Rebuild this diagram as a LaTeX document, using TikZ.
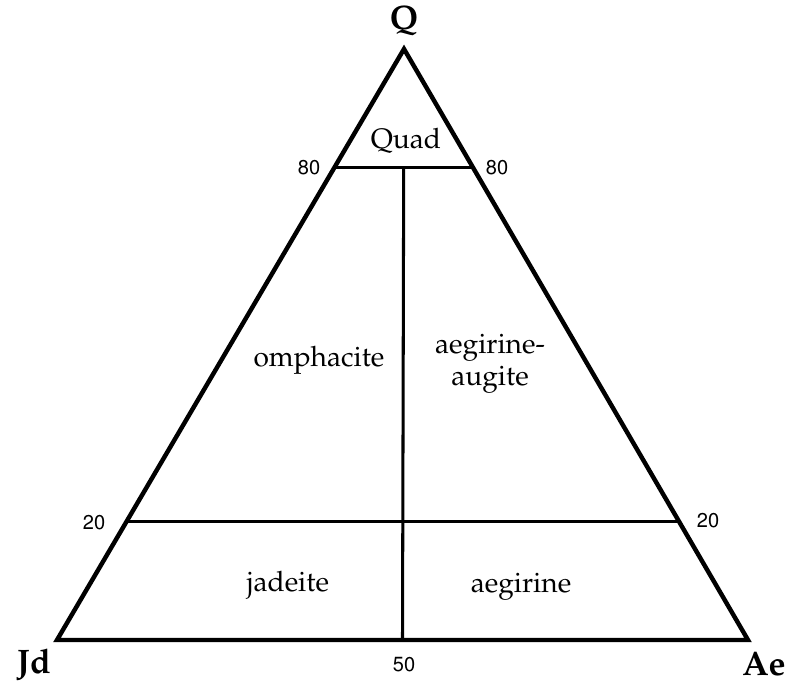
\documentclass[tikz,border=0pt]{standalone}
\usepackage[T1]{fontenc}
\usepackage{mathpazo}
\usepackage[scaled]{helvet}
\usetikzlibrary{calc,positioning}

\begin{document}
\begin{tikzpicture}[x=0.03cm,y=-0.03cm,
  every node/.style={font=\fontsize{24}{27}\selectfont,inner sep=0pt},
  corner/.style={font=\fontsize{29}{32}\selectfont\bfseries},
  tick/.style={font=\fontsize{18}{21}\selectfont\sffamily},
  field/.style={align=center},
  rim/.style={line width=3.8pt,line join=miter},
  split/.style={line width=2.6pt}]
\useasboundingbox (0,0) rectangle (799,684);

% corners of the diagram
\coordinate (q) at (404,49);
\coordinate (jd) at (57,640);
\coordinate (ae) at (748,640);
\coordinate (b50) at ($(jd)!0.5!(ae)$);
\coordinate (l80) at ($(q)!0.2!(jd)$);
\coordinate (r80) at ($(q)!0.2!(ae)$);
\coordinate (l20) at ($(q)!0.8!(jd)$);
\coordinate (r20) at ($(q)!0.8!(ae)$);
\coordinate (m80) at ($(l80)!0.5!(r80)$);

\draw[rim] (q) -- (jd) -- (ae) -- cycle;
\draw[split] (l80) -- (r80);
\draw[split] (l20) -- (r20);
\draw[split] (m80) -- (b50);

% end members
\node[corner] (qlab) at (404,21) {Q};
\node[corner] (jdlab) at (34,665) {Jd};
\node[corner] (aelab) at (764,664) {Ae};

% scale marks
\node[tick] (t80l) at (309,168) {80};
\node[tick] (t80r) at (497,168) {80};
\node[tick] (t20l) at (94,523) {20};
\node[tick] (t20r) at (708,521) {20};
\node[tick] (t50) at (404,665) {50};

% fields
\node[field] (quad) at (406,141) {Quad};
\node[field] (omph) at (319,360) {omphacite};
\node[field] (aeau) at (490,364) {aegirine-\\augite};
\node[field] (jade) at (288,585) {jadeite};
\node[field] (aegi) at (521,587) {aegirine};
\end{tikzpicture}
\end{document}
